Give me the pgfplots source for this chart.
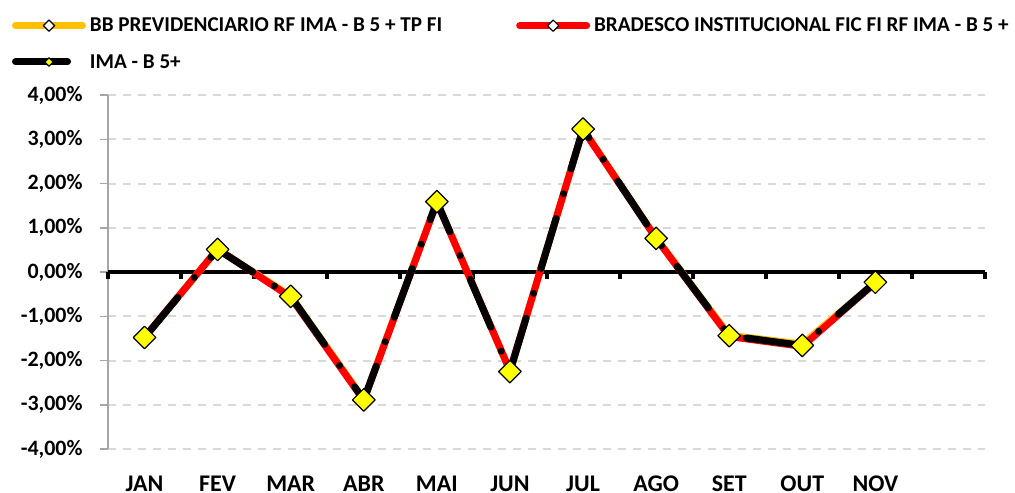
\documentclass[border=0pt]{standalone}
\usepackage{fontspec}
\setmainfont{Carlito}
\usepackage{pgfplots}
\pgfplotsset{compat=1.18}
\definecolor{bbor}{HTML}{FFC000}
\definecolor{brred}{HTML}{FF0000}
\definecolor{grd}{HTML}{D9D9D9}
\definecolor{axg}{HTML}{A6A6A6}
\definecolor{mky}{HTML}{FFFF00}
\begin{document}
\begin{tikzpicture}
\useasboundingbox (-108bp,-44bp) rectangle (907bp,449bp);
\begin{axis}[
  scale only axis, width=877bp, height=354bp,
  at={(0,0)}, anchor=south west,
  xmin=0.5, xmax=12.5, ymin=-4, ymax=4,
  axis y line*=left, axis x line*=bottom,
  x axis line style={draw=none},
  y axis line style={draw=axg, line width=1.5bp},
  xtick={1,...,11},
  xticklabels={JAN,FEV,MAR,ABR,MAI,JUN,JUL,AGO,SET,OUT,NOV},
  xtick style={draw=none},
  ytick={-4,-3,...,4},
  yticklabels={{-4,00\%},{-3,00\%},{-2,00\%},{-1,00\%},{0,00\%},{1,00\%},{2,00\%},{3,00\%},{4,00\%}},
  ytick style={draw=axg, line width=1.5bp},
  tick align=outside, major tick length=8bp,
  ymajorgrids, grid style={draw=grd, line width=2bp, dash pattern=on 8bp off 7bp},
  yticklabel style={font=\fontsize{22}{26}\selectfont\bfseries, xshift=-14bp},
  xticklabel style={font=\fontsize{24}{28}\selectfont\bfseries, inner sep=0pt, text depth=0pt, yshift=-19bp},
  clip=false,
  legend columns=2,
  legend cell align=left,
  legend image code/.code={%
    \draw[mark repeat=2,mark phase=2,line cap=round,#1]
      plot coordinates {(0bp,0bp) (33.5bp,0bp) (67bp,0bp)};},
  legend style={draw=none, fill=none, inner sep=0pt, outer sep=0pt,
    at={(axis description cs:0,1)}, anchor=north west,
    xshift=-96bp, yshift=79bp,
    font=\fontsize{21.2}{25}\selectfont\bfseries,
    row sep=17bp,
    /tikz/every odd column/.append style={column sep=2bp},
    /tikz/every even column/.append style={column sep=72bp}},
]
\draw[line width=4bp] (axis cs:0.5,0) -- (axis cs:12.5,0);
\pgfplotsinvokeforeach{0.5,1.5,2.5,3.5,4.5,5.5,6.5,7.5,8.5,9.5,10.5,11.5,12.5}
  {\draw[line width=4bp] (axis cs:#1,0) -- ([yshift=-7bp]axis cs:#1,0);}
\addplot[color=bbor, line width=7bp, line join=round,
  mark=square*, mark size=4bp,
  mark options={solid, rotate=45, fill=white, draw=black, line width=1.2bp}]
  coordinates {(1,-1.47)(2,0.51)(3,-0.54)(4,-2.88)(5,1.59)(6,-2.24)(7,3.23)(8,0.77)(9,-1.43)(10,-1.63)(11,-0.23)};
\addlegendentry{BB PREVIDENCIARIO RF IMA - B 5 + TP FI}
\addplot[color=brred, line width=7bp, line join=round,
  mark=square*, mark size=4bp,
  mark options={solid, rotate=45, fill=white, draw=black, line width=1.2bp}]
  coordinates {(1,-1.48)(2,0.52)(3,-0.57)(4,-2.90)(5,1.58)(6,-2.23)(7,3.22)(8,0.76)(9,-1.46)(10,-1.68)(11,-0.24)};
\addlegendentry{BRADESCO INSTITUCIONAL FIC FI RF IMA - B 5 +}
\addplot[color=black, line width=7bp, line join=round, line cap=round,
  dash pattern=on 52bp off 26bp on 0bp off 26bp,
  mark=square*, mark size=8bp,
  mark options={solid, rotate=45, fill=mky, draw=black, line width=1.2bp},
  legend image post style={mark size=3bp}]
  coordinates {(1,-1.48)(2,0.51)(3,-0.55)(4,-2.89)(5,1.59)(6,-2.25)(7,3.23)(8,0.76)(9,-1.44)(10,-1.66)(11,-0.23)};
\addlegendentry{IMA - B 5+}
\end{axis}
\end{tikzpicture}
\end{document}
